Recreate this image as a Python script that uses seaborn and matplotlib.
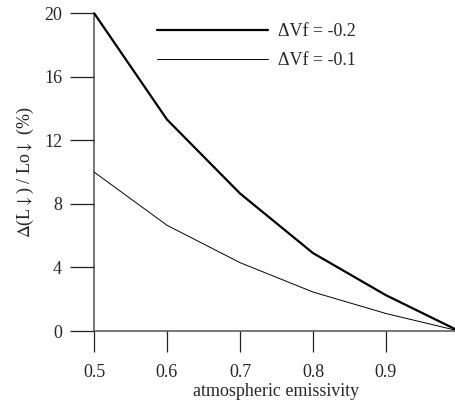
import pandas as pd
import matplotlib.pyplot as plt
import seaborn as sns

# values
emissivity = [0.5, 0.6, 0.7, 0.8, 0.9, 1.0]
dvf_minus02 = [20.0, 13.3, 8.65, 4.9, 2.25, 0.0]
dvf_minus01 = [10.0, 6.65, 4.3, 2.45, 1.1, 0.0]
series_labels = ['\u0394Vf = -0.2', '\u0394Vf = -0.1']
x_ticks = [0.5, 0.6, 0.7, 0.8, 0.9]
y_ticks = [0, 4, 8, 12, 16, 20]

sns.set_style('ticks')
plt.rcParams['font.family'] = ['Liberation Serif', 'DejaVu Serif']
plt.rcParams['mathtext.fontset'] = 'stix'
plt.rcParams['font.size'] = 13

df = pd.DataFrame({
    'emissivity': emissivity * 2,
    'value': dvf_minus02 + dvf_minus01,
    'series': [series_labels[0]] * len(emissivity) + [series_labels[1]] * len(emissivity),
})

fig = plt.figure(figsize=(4.56, 4.09), dpi=100)
ax = fig.add_axes([94 / 456, 78 / 409, 365 / 456, 318 / 409])

sns.lineplot(data=df, x='emissivity', y='value', hue='series', size='series',
             palette=['black', 'black'], sizes=[1.6, 0.7], ax=ax)

ax.set_xlim(0.5, 1.0)
ax.set_ylim(0, 20)
ax.set_xticks(x_ticks)
ax.set_xticklabels([f'{t:.1f}' for t in x_ticks])
ax.set_yticks(y_ticks)
ax.set_yticklabels([str(t) for t in y_ticks])

sns.despine(ax=ax)
for side in ['left', 'bottom']:
    ax.spines[side].set_color('#777777')
    ax.spines[side].set_linewidth(1.4)
    ax.spines[side].set_zorder(0)
ax.tick_params(axis='x', length=15, width=0.9, color='#222222', pad=9, labelsize=13)
ax.tick_params(axis='y', length=17, width=0.9, color='#222222', pad=6, labelsize=13)

ax.set_xlabel('atmospheric emissivity', fontsize=13, labelpad=1.5)
ax.set_ylabel(r'$\Delta$(L$\downarrow$) / Lo$\downarrow$ (%)', fontsize=13, labelpad=6)

leg = ax.legend(loc='upper left', bbox_to_anchor=(0.1726, 0.969), frameon=False,
                borderpad=0, borderaxespad=0,
                handlelength=6.15, handletextpad=0.55, labelspacing=0.67, fontsize=13)

fig.savefig('out.png', dpi=100)
